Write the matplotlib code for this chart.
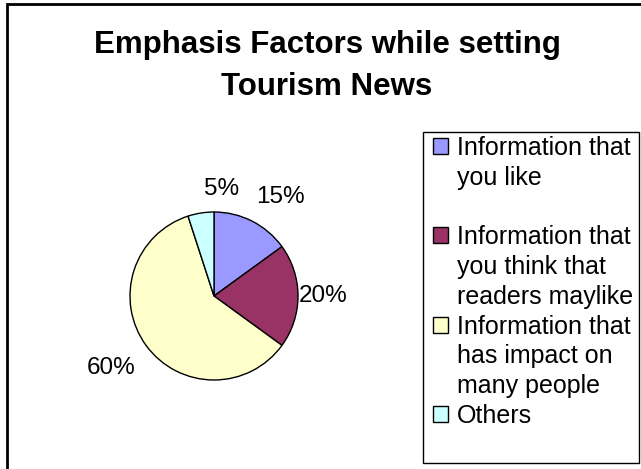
import numpy as np
import matplotlib
matplotlib.use("Agg")
import matplotlib.pyplot as plt
from matplotlib.patches import Rectangle

plt.rcParams['font.family'] = ['Liberation Sans', 'DejaVu Sans']

# chart data
title = "Emphasis Factors while setting\nTourism News"
categories = ["Information that\nyou like",
              "Information that\nyou think that\nreaders maylike",
              "Information that\nhas impact on\nmany people",
              "Others"]
shares = [15, 20, 60, 5]
colors = ["#9999FF", "#993366", "#FFFFCC", "#CCFFFF"]

W, H = 641, 469
fig = plt.figure(figsize=(W / 100, H / 100), dpi=100)

# outer chart border (left + top visible, rest cropped)
fig.patches.append(Rectangle((7 / W, -0.05), 1.1, 1.05 - 4 / H, transform=fig.transFigure,
                             fill=False, ec="black", lw=2.0, clip_on=False))

fig.text(327 / W, 1 - 66 / H, title, ha="center", va="center", fontsize=22.5,
         fontweight="bold", linespacing=1.5)

# pie, radius 1 == 84 px, centre at (214, 296) px
ax = fig.add_axes([0, 0, 420 / W, 1])
R, cx, cy = 84, 214, 296
wedges, texts, autotexts = ax.pie(shares, colors=colors, startangle=90, counterclock=False,
                                  autopct="%d%%", pctdistance=1.35,
                                  wedgeprops=dict(edgecolor="black", linewidth=1.0),
                                  textprops=dict(fontsize=17.5))
label_r = [1.42, 1.30, 1.50, 1.28]
label_turn = [-7, 0, -1, -13]
for w, t, r, d in zip(wedges, autotexts, label_r, label_turn):
    ang = np.deg2rad((w.theta1 + w.theta2) / 2 + d)
    t.set_position((r * np.cos(ang), r * np.sin(ang)))
ax.set_xlim(-cx / R, (420 - cx) / R)
ax.set_ylim(-(H - cy) / R, cy / R)
ax.set_aspect("auto")
ax.axis("off")

# legend: one row per text line, square only on the first line of each entry
handles, labels = [], []
for i, (cat, c) in enumerate(zip(categories, colors)):
    lines = cat.split("\n")
    if i < len(categories) - 1:
        lines += [" "] * (3 - len(lines))
    for j, ln in enumerate(lines):
        h = Rectangle((0, 0), 1, 1, fc=c, ec="black", lw=1.0, visible=(j == 0))
        handles.append(h)
        labels.append(ln)

fig.legend(handles, labels, loc="upper left", bbox_to_anchor=(433 / W, 1 - 136 / H),
           bbox_transform=fig.transFigure, frameon=False, fontsize=18,
           borderpad=0, borderaxespad=0, handlelength=0.6, handleheight=0.6,
           handletextpad=0.35, labelspacing=0.23)
fig.patches.append(Rectangle((423 / W, 1 - 463 / H), (639 - 423) / W, (463 - 132) / H,
                             transform=fig.transFigure, fill=False, ec="black", lw=1.0))

fig.savefig("out.png", dpi=100)
